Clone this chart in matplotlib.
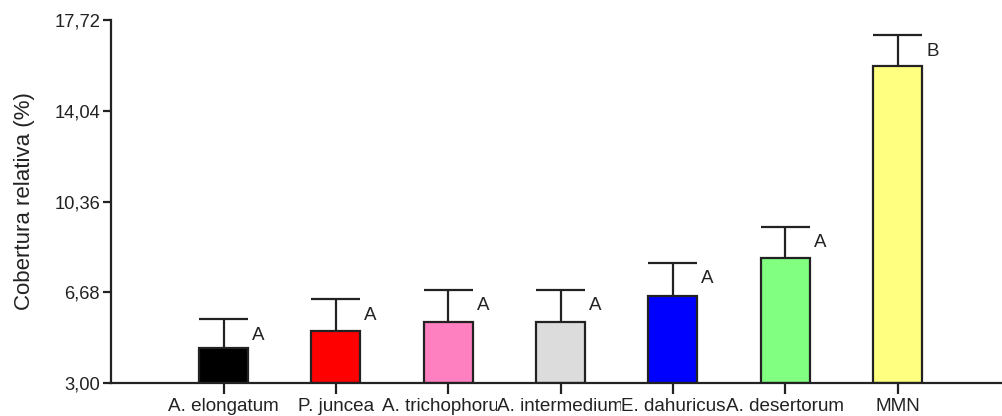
import numpy as np
import matplotlib.pyplot as plt

plt.rcParams['font.family'] = ['Liberation Sans', 'DejaVu Sans']

# Cobertura relativa por especie: media y error (solo barra superior)
especies = ['A. elongatum', 'P. juncea', 'A. trichophorum', 'A. intermedium',
            'E. dahuricus', 'A. desertorum', 'MMN']
media = [4.42, 5.11, 5.48, 5.48, 6.54, 8.08, 15.85]
error = [1.18, 1.30, 1.30, 1.30, 1.34, 1.26, 1.25]
letras = ['A', 'A', 'A', 'A', 'A', 'A', 'B']
colores = ['#000000', '#ff0000', '#ff80c0', '#dcdcdc', '#0000ff', '#80ff80', '#ffff80']
yticks = [3.00, 6.68, 10.36, 14.04, 17.72]

ink = '#222222'
fig = plt.figure(figsize=(10.02, 4.16), dpi=100)
ax = fig.add_axes([0.111, 0.079, 0.889, 0.873])

x = np.arange(len(especies))
w = 0.435
ax.bar(x, np.array(media) - 3.0, bottom=3.0, width=w, color=colores,
       edgecolor=ink, linewidth=1.6, zorder=2)

# barras de error hacia arriba con tope del ancho de la barra
tope = np.array(media) + np.array(error)
ax.vlines(x, media, tope, color=ink, linewidth=1.6, zorder=3)
ax.hlines(tope, x - w / 2, x + w / 2, color=ink, linewidth=1.6, zorder=3)

for xi, t, l in zip(x, tope, letras):
    ax.text(xi + 0.31, t - 0.65, l, ha='center', va='center', fontsize=13.5, color=ink)

ax.set_xlim(-1.0, 6.93)
ax.set_ylim(3.0, 17.72)
ax.set_yticks(yticks)
ax.set_yticklabels([f'{v:.2f}'.replace('.', ',') for v in yticks])
ax.set_xticks(x)
ax.set_xticklabels(especies, fontsize=13.6)
ax.set_ylabel('Cobertura relativa (%)', fontsize=16, color=ink, labelpad=14)

for s in ['top', 'right']:
    ax.spines[s].set_visible(False)
for s in ['left', 'bottom']:
    ax.spines[s].set_linewidth(1.6)
    ax.spines[s].set_color(ink)
ax.tick_params(axis='both', colors=ink, width=1.6)
ax.tick_params(axis='y', labelsize=13.2, length=6, pad=2)
ax.tick_params(axis='x', length=8, pad=3)

# cada etiqueta tapa a la anterior con fondo blanco
for lbl in ax.get_xticklabels():
    lbl.set_bbox(dict(facecolor='white', edgecolor='none', pad=0))

fig.savefig('out.png', dpi=100)
